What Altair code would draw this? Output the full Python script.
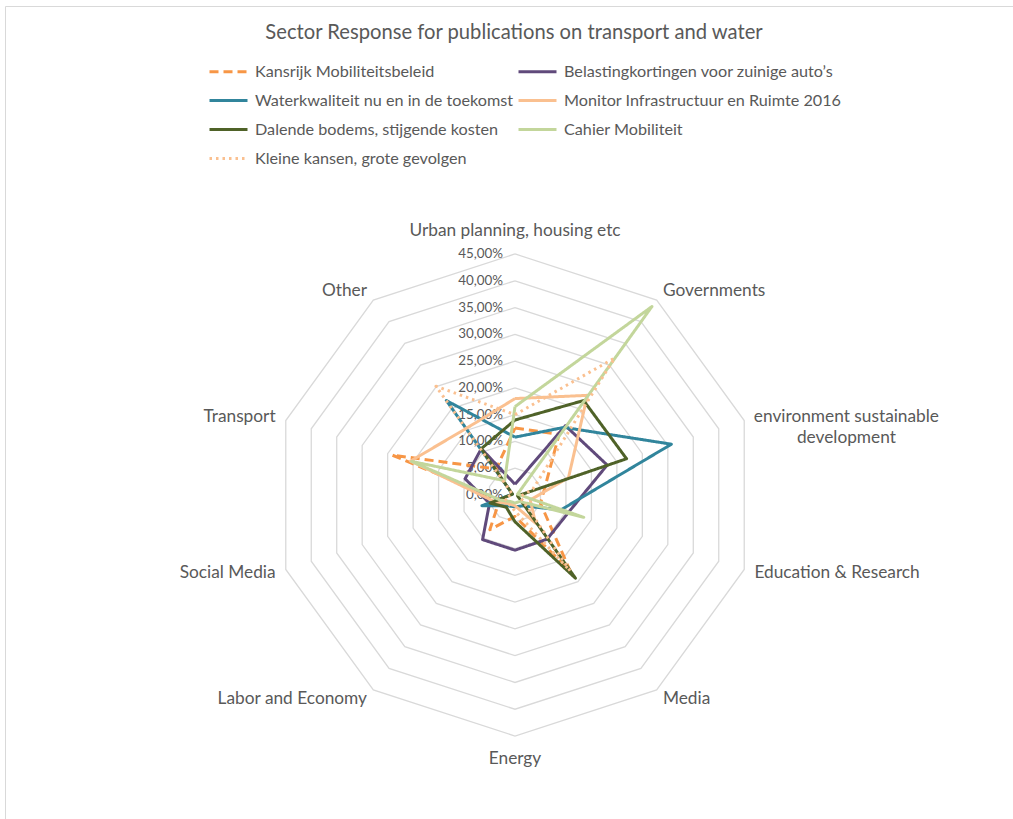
import altair as alt
import pandas as pd

# Sectors, clockwise from the top
categories = [
    "Urban planning, housing etc",
    "Governments",
    "environment sustainable development",
    "Education & Research",
    "Media",
    "Energy",
    "Labor and Economy",
    "Social Media",
    "Transport",
    "Other",
]
# Display text of the sector labels (line breaks where the label wraps)
category_labels = [
    "Urban planning, housing etc",
    "Governments",
    "environment sustainable\ndevelopment",
    "Education & Research",
    "Media",
    "Energy",
    "Labor and Economy",
    "Social Media",
    "Transport",
    "Other",
]

series_names = [
    "Kansrijk Mobiliteitsbeleid",
    "Belastingkortingen voor zuinige auto\u2019s",
    "Waterkwaliteit nu en in de toekomst",
    "Monitor Infrastructuur en Ruimte 2016",
    "Dalende bodems, stijgende kosten",
    "Cahier Mobiliteit",
    "Kleine kansen, grote gevolgen",
]

# Share of responses per sector (%), in the order of `categories`
kansrijk = [12.5, 14.0, 6.0, 5.0, 17.5, 4.0, 8.0, 3.0, 24.1, 6.0]
belasting = [2.0, 16.0, 18.1, 10.5, 10.2, 10.3, 10.3, 5.0, 9.8, 10.7]
waterkwaliteit = [10.8, 15.6, 30.7, 9.0, 2.5, 2.2, 2.5, 6.5, 0.5, 21.8]
monitor = [18.0, 23.0, 10.5, 3.0, 6.5, 2.0, 2.0, 4.0, 20.5, 15.4]
dalende = [14.0, 21.8, 21.9, 0.5, 19.2, 5.0, 2.8, 4.9, 0.5, 10.7]
cahier = [16.5, 43.5, 0.5, 13.5, 1.5, 1.5, 1.5, 3.0, 20.3, 3.3]
kleine = [15.0, 31.6, 3.5, 1.0, 17.5, 3.0, 2.0, 2.0, 0.5, 25.1]

series_values = [kansrijk, belasting, waterkwaliteit, monitor, dalende, cahier, kleine]

series_colors = ["#F79646", "#604A7B", "#31859C", "#FAC090", "#4F6228", "#C3D69B", "#FAC090"]
series_dashes = [[9, 5], [1, 0], [1, 0], [1, 0], [1, 0], [1, 0], [2.5, 4]]

tick_values = [0, 5, 10, 15, 20, 25, 30, 35, 40, 45]
tick_labels = ["0,00%", "5,00%", "10,00%", "15,00%", "20,00%",
               "25,00%", "30,00%", "35,00%", "40,00%", "45,00%"]

N = len(categories)

# Legend fills its two columns top-to-bottom, so list the entries column by
# column to read them row by row.
legend_order = [series_names[i] for i in (0, 2, 4, 6, 1, 3, 5)]
legend_colors = [series_colors[series_names.index(s)] for s in legend_order]
legend_dashes = [series_dashes[series_names.index(s)] for s in legend_order]

# ---- tables -------------------------------------------------------------
line_rows = []
for name, vals in zip(series_names, series_values):
    for k in range(N + 1):  # repeat first sector to close the polygon
        i = k % N
        line_rows.append({"series": name, "order": k, "idx": i, "value": vals[i]})
lines_df = pd.DataFrame(line_rows)

ring_rows = []
for v in tick_values[1:]:
    for k in range(N + 1):
        ring_rows.append({"ring": v, "order": k, "idx": k % N, "value": v})
rings_df = pd.DataFrame(ring_rows)

ticks_df = pd.DataFrame({"value": tick_values, "label": tick_labels})
labels_df = pd.DataFrame({"idx": list(range(N)), "label": category_labels})

# ---- polar -> cartesian through Vega expressions ----------------------------
ANGLE = "datum.idx * 2 * PI / 10"
to_xy = dict(
    px=f"datum.r * sin({ANGLE})",
    py=f"datum.r * cos({ANGLE})",
)

# plot frame: centre of the radar sits at (510, 489) inside a 1008 x 813 view
K = 5.356  # pixels per percentage point
W, H = 1008, 813
CX, CY = 510, 489
x_scale = alt.Scale(domain=[-CX / K, (W - CX) / K], nice=False, zero=False)
y_scale = alt.Scale(domain=[-(H - CY) / K, CY / K], nice=False, zero=False)

X = alt.X("px:Q", scale=x_scale, axis=None)
Y = alt.Y("py:Q", scale=y_scale, axis=None)

FONT = "Lato"
GREY = "#595959"

grid = (
    alt.Chart(rings_df)
    .transform_calculate(r="datum.value")
    .transform_calculate(**to_xy)
    .mark_line(color="#D9D9D9", strokeWidth=1.3)
    .encode(x=X, y=Y, detail="ring:N", order="order:Q")
)

legend = alt.Legend(
    title=None,
    orient="none",
    legendX=203,
    legendY=45,
    columns=2,
    columnPadding=-2,
    rowPadding=-0.3,
    symbolType="stroke",
    symbolSize=1444,
    symbolStrokeWidth=3,
    labelFont=FONT,
    labelFontSize=16.2,
    labelColor=GREY,
    labelLimit=400,
    labelOffset=6,
    padding=0,
)

radar = (
    alt.Chart(lines_df)
    .transform_calculate(r="datum.value")
    .transform_calculate(**to_xy)
    .mark_line(strokeWidth=3, strokeJoin="round")
    .encode(
        x=X,
        y=Y,
        order="order:Q",
        color=alt.Color("series:N", sort=legend_order,
                        scale=alt.Scale(domain=legend_order, range=legend_colors),
                        legend=legend),
        strokeDash=alt.StrokeDash("series:N", sort=legend_order,
                                  scale=alt.Scale(domain=legend_order, range=legend_dashes),
                                  legend=legend),
    )
)

tick_text = (
    alt.Chart(ticks_df)
    .transform_calculate(px="0", py="datum.value")
    .mark_text(align="right", baseline="middle", dx=-12, font=FONT,
               fontSize=13.4, color=GREY)
    .encode(x=X, y=Y, text="label:N")
)

label_base = alt.Chart(labels_df).transform_calculate(
    r="(datum.idx == 0 || datum.idx == 5) ? 49.3 : 47"
).transform_calculate(**to_xy)

text_style = dict(font=FONT, fontSize=17.3, color=GREY, baseline="middle")

labels_center = label_base.transform_filter("datum.idx == 0 || datum.idx == 5").mark_text(
    align="center", **text_style).encode(x=X, y=Y, text="label:N")
labels_right = label_base.transform_filter(
    "datum.idx == 1 || datum.idx == 3 || datum.idx == 4").mark_text(
    align="left", **text_style).encode(x=X, y=Y, text="label:N")
labels_env = label_base.transform_filter("datum.idx == 2").mark_text(
    align="center", dx=92, lineBreak="\n", lineHeight=21, **text_style).encode(
    x=X, y=Y, text="label:N")
labels_left = label_base.transform_filter("datum.idx >= 6").mark_text(
    align="right", **text_style).encode(x=X, y=Y, text="label:N")

title = (
    alt.Chart(pd.DataFrame({"t": ["Sector Response for publications on transport and water"]}))
    .mark_text(font=FONT, fontSize=20.2, color=GREY, align="center", baseline="middle")
    .encode(x=alt.value(509), y=alt.value(27), text="t:N")
)

chart = (
    alt.layer(grid, tick_text, radar, labels_center, labels_right, labels_env,
              labels_left, title)
    .properties(
        width=W,
        height=H,
        padding={"left": 5, "top": 6, "right": 0, "bottom": 0},
        autosize="none",
        background="white",
    )
    .configure_view(stroke="#D9D9D9", strokeWidth=1)
)

chart.save("out.html", embed_options={"renderer": "svg", "actions": False})
